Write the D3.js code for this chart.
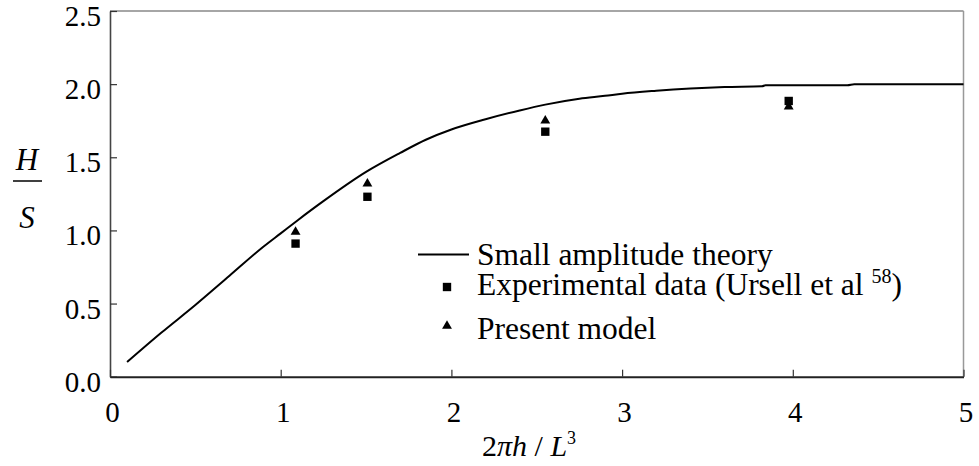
<!DOCTYPE html>
<html>
<head>
<meta charset="utf-8">
<script src="https://cdn.jsdelivr.net/npm/d3@7/dist/d3.min.js"></script>
<style>
  html, body { margin: 0; padding: 0; background: #fff; }
  svg { display: block; }
  text { font-family: "Liberation Serif", "Times New Roman", serif; fill: #000; }
</style>
</head>
<body>
<svg id="chart" width="979" height="466"></svg>
<script>
// ---- data ----
const curveX = [0.1, 0.3, 0.5, 0.7, 0.9, 1.0, 1.1, 1.25, 1.5, 1.7, 1.85, 2.0, 2.2, 2.4, 2.55, 2.75, 2.9, 3.0, 3.2, 3.4, 3.6, 3.82, 3.84, 4.32, 4.36, 5.0];
const curveY = [0.10, 0.30, 0.49, 0.69, 0.89, 0.98, 1.07, 1.20, 1.40, 1.53, 1.62, 1.69, 1.76, 1.82, 1.86, 1.90, 1.92, 1.935, 1.955, 1.97, 1.98, 1.985, 1.993, 1.993, 2.0, 2.0];
const expX = [1.087, 1.508, 2.55, 3.976];
const expY = [0.91, 1.23, 1.675, 1.885];
const modelX = [1.087, 1.508, 2.55, 3.976];
const modelY = [0.99, 1.32, 1.75, 1.846];
const xTicks = [0, 1, 2, 3, 4, 5];
const yTicks = [0.0, 0.5, 1.0, 1.5, 2.0, 2.5];
const legendLabels = ["Small amplitude theory", "Experimental data (Ursell et al ", "Present model"];

// ---- layout ----
const L = 110, R = 963.5, T = 11, B = 376.7;
const svg = d3.select("#chart");
const x = d3.scaleLinear().domain([0, 5]).range([L, R]);
const y = d3.scaleLinear().domain([0, 2.5]).range([B, T]);
const FS = 29;
const LFS = 31.5;

// frame: top and right lines
svg.append("line").attr("x1", L).attr("x2", R).attr("y1", T).attr("y2", T)
  .attr("stroke", "#888").attr("stroke-width", 1.5);
svg.append("line").attr("x1", R).attr("x2", R).attr("y1", T).attr("y2", B)
  .attr("stroke", "#999").attr("stroke-width", 1.5);

// y axis
const gy = svg.append("g").attr("transform", `translate(${L},0)`)
  .call(d3.axisLeft(y).tickValues(yTicks).tickFormat(d3.format(".1f"))
    .tickSizeInner(-7).tickSizeOuter(0).tickPadding(9));
gy.select(".domain").attr("stroke", "#444").attr("stroke-width", 1.6);
gy.selectAll(".tick line").attr("stroke", "#333").attr("stroke-width", 1.2);
gy.selectAll(".tick text").attr("font-size", FS).attr("font-family", "Liberation Serif").attr("dy", "0.5em").attr("fill", "#000");

// x axis
const gx = svg.append("g").attr("transform", `translate(0,${B})`)
  .call(d3.axisBottom(x).tickValues(xTicks).tickFormat(d3.format("d"))
    .tickSizeInner(-7).tickSizeOuter(0).tickPadding(25));
gx.select(".domain").attr("stroke", "#222").attr("stroke-width", 2);
gx.selectAll(".tick line").attr("stroke", "#333").attr("stroke-width", 1.2);
gx.selectAll(".tick text").attr("font-size", FS).attr("font-family", "Liberation Serif").attr("fill", "#000")
  .attr("dx", 2);

// curve
const curveData = curveX.map((v, i) => [v, curveY[i]]);
svg.append("path").datum(curveData)
  .attr("d", d3.line().curve(d3.curveMonotoneX).x(d => x(d[0])).y(d => y(d[1])))
  .attr("fill", "none").attr("stroke", "#000").attr("stroke-width", 2);

// markers
const sq = d3.symbol().type(d3.symbolSquare).size(70);
const tri = d3.symbol().type(d3.symbolTriangle).size(42);
svg.selectAll("path.exp").data(expX.map((v, i) => [v, expY[i]])).enter()
  .append("path").attr("class", "exp").attr("d", sq)
  .attr("transform", d => `translate(${x(d[0])},${y(d[1])})`).attr("fill", "#000");
svg.selectAll("path.model").data(modelX.map((v, i) => [v, modelY[i]])).enter()
  .append("path").attr("class", "model").attr("d", tri)
  .attr("transform", d => `translate(${x(d[0])},${y(d[1])})`).attr("fill", "#000");

// legend
const lg = svg.append("g");
lg.append("line").attr("x1", 418).attr("x2", 469).attr("y1", 254.5).attr("y2", 254.5)
  .attr("stroke", "#000").attr("stroke-width", 2);
lg.append("text").attr("x", 477).attr("y", 265).attr("font-size", LFS).text(legendLabels[0]);
lg.append("path").attr("d", sq).attr("transform", "translate(447,287)").attr("fill", "#000");
const t2 = lg.append("text").attr("x", 477).attr("y", 295).attr("font-size", LFS);
t2.append("tspan").text(legendLabels[1]);
t2.append("tspan").attr("font-size", 20).attr("dy", -12).text("58");
t2.append("tspan").attr("dy", 12).text(")");
lg.append("path").attr("d", tri).attr("transform", "translate(447,326)").attr("fill", "#000");
lg.append("text").attr("x", 477).attr("y", 339).attr("font-size", LFS).text(legendLabels[2]);

// y label (fraction H / S)
svg.append("text").attr("x", 27).attr("y", 170).attr("text-anchor", "middle")
  .attr("font-size", 31).attr("font-style", "italic").text("H");
svg.append("line").attr("x1", 13).attr("x2", 42).attr("y1", 181).attr("y2", 181)
  .attr("stroke", "#000").attr("stroke-width", 1.5);
svg.append("text").attr("x", 27).attr("y", 228).attr("text-anchor", "middle")
  .attr("font-size", 31).attr("font-style", "italic").text("S");

// x label
const xl = svg.append("text").attr("x", 482).attr("y", 456).attr("font-size", 30);
xl.append("tspan").text("2");
xl.append("tspan").attr("font-style", "italic").text("πh");
xl.append("tspan").text(" / ");
xl.append("tspan").attr("font-style", "italic").text("L");
xl.append("tspan").attr("font-size", 18).attr("dy", -12).text("3");
</script>
</body>
</html>
